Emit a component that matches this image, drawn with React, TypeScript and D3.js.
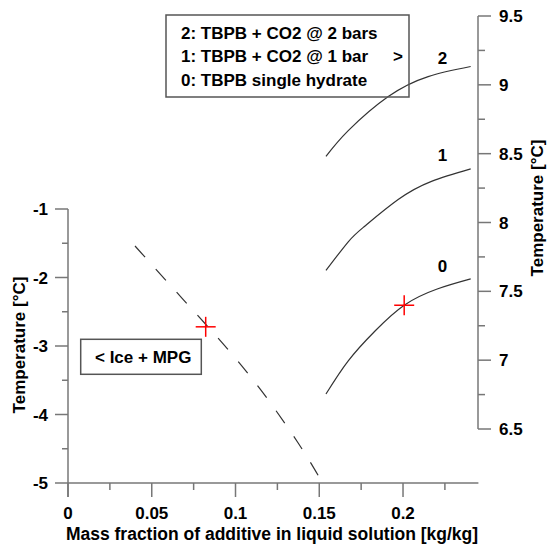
import React from "react";
import * as d3 from "d3";

const W = 547;
const H = 544;

// X axis ticks (mass fraction)
const xMajorTicks = [0, 0.05, 0.1, 0.15, 0.2];
const xMinorTicks = [0.025, 0.075, 0.125, 0.175, 0.225];
// Left axis (ice + MPG)
const leftMajorTicks = [-1, -2, -3, -4, -5];
const leftMinorTicks = [-1.5, -2.5, -3.5, -4.5];
// Right axis (hydrates)
const rightMajorTicks = [9.5, 9, 8.5, 8, 7.5, 7, 6.5];
const rightMinorTicks = [9.25, 8.75, 8.25, 7.75, 7.25, 6.75];

// Ice + MPG liquidus (left axis)
const mpgX = [0.04, 0.068, 0.093, 0.116, 0.1375, 0.1496];
const mpgT = [-1.54, -2.3, -2.98, -3.67, -4.42, -4.9];

// Hydrate curves (right axis)
const h0X = [0.154, 0.1673, 0.1833, 0.2007, 0.22, 0.2404];
const h0T = [6.754, 6.995, 7.212, 7.399, 7.515, 7.59];
const h1X = [0.154, 0.1673, 0.1771, 0.1971, 0.217, 0.2404];
const h1T = [7.652, 7.86, 7.973, 8.167, 8.299, 8.389];
const h2X = [0.154, 0.1673, 0.1912, 0.215, 0.2404];
const h2T = [8.48, 8.667, 8.915, 9.06, 9.133];

// Measured points
const crossMpg = { x: 0.0822, t: -2.72 };
const crossHyd = { x: 0.2007, t: 7.399 };

const legendLines = ["2: TBPB + CO2 @ 2 bars", "1: TBPB + CO2 @ 1 bar", "0: TBPB single hydrate"];
const curveLabels = [
  { label: "2", x: 0.2235, t: 9.15 },
  { label: "1", x: 0.2235, t: 8.45 },
  { label: "0", x: 0.2235, t: 7.64 },
];

const FONT = "'Liberation Sans', Arial, Helvetica, sans-serif";
const AXIS = "#777";
const FS = 17;

export default function App() {
  const x = d3.scaleLinear().domain([0, 0.245]).range([68, 478.4]);
  const yL = d3.scaleLinear().domain([-5, -1]).range([483, 209]);
  const yR = d3.scaleLinear().domain([6.5, 9.5]).range([429, 16]);

  const lineL = d3
    .line<number>()
    .x((_, i) => x(mpgX[i]))
    .y((d) => yL(d))
    .curve(d3.curveNatural);
  const mkR = (xs: number[]) =>
    d3
      .line<number>()
      .x((_, i) => x(xs[i]))
      .y((d) => yR(d))
      .curve(d3.curveNatural);

  const cross = (cx: number, cy: number, key: string) => (
    <g key={key} stroke="#ff0000" strokeWidth={1.5}>
      <line x1={cx - 10} x2={cx + 10} y1={cy} y2={cy} />
      <line x1={cx} x2={cx} y1={cy - 10} y2={cy + 10} />
    </g>
  );

  const xAxisY = 483;
  const leftX = 68;
  const rightX = 478;

  return (
    <div style={{ position: "absolute", left: 0, top: 0 }}>
      <svg width={W} height={H} style={{ display: "block", background: "#fff" }} fontFamily={FONT}>
        {/* X axis */}
        <line x1={x(0)} x2={x(0.245)} y1={xAxisY} y2={xAxisY} stroke={AXIS} strokeWidth={1.5} />
        {xMajorTicks.map((t) => (
          <g key={"xm" + t}>
            <line x1={x(t)} x2={x(t)} y1={xAxisY} y2={xAxisY + 14} stroke={AXIS} strokeWidth={1.5} />
            <text x={x(t)} y={518.5} textAnchor="middle" fontSize={FS} fontWeight="bold" fill="#000">
              {t}
            </text>
          </g>
        ))}
        {xMinorTicks.map((t) => (
          <line key={"xn" + t} x1={x(t)} x2={x(t)} y1={xAxisY} y2={xAxisY + 7} stroke={AXIS} strokeWidth={1.5} />
        ))}
        <text x={272} y={539.5} textAnchor="middle" fontSize={17.5} fontWeight="bold" fill="#000">
          Mass fraction of additive in liquid solution [kg/kg]
        </text>

        {/* Left axis */}
        <line x1={leftX} x2={leftX} y1={yL(-1)} y2={yL(-5) + 14} stroke={AXIS} strokeWidth={1.5} />
        {leftMajorTicks.map((t) => (
          <g key={"lm" + t}>
            <line x1={leftX - 13} x2={leftX} y1={yL(t)} y2={yL(t)} stroke={AXIS} strokeWidth={1.5} />
            <text x={48} y={yL(t) + 6} textAnchor="end" fontSize={FS} fontWeight="bold" fill="#000">
              {t}
            </text>
          </g>
        ))}
        {leftMinorTicks.map((t) => (
          <line key={"ln" + t} x1={leftX - 6} x2={leftX} y1={yL(t)} y2={yL(t)} stroke={AXIS} strokeWidth={1.5} />
        ))}
        <text
          transform={`translate(25,345) rotate(-90)`}
          textAnchor="middle"
          fontSize={FS}
          fontWeight="bold"
          fill="#000"
        >
          Temperature [°C]
        </text>

        {/* Right axis */}
        <line x1={rightX} x2={rightX} y1={yR(9.5)} y2={yR(6.5)} stroke={AXIS} strokeWidth={1.5} />
        {rightMajorTicks.map((t) => (
          <g key={"rm" + t}>
            <line x1={rightX} x2={rightX + 13} y1={yR(t)} y2={yR(t)} stroke={AXIS} strokeWidth={1.5} />
            <text x={499} y={yR(t) + 6} textAnchor="start" fontSize={FS} fontWeight="bold" fill="#000">
              {t}
            </text>
          </g>
        ))}
        {rightMinorTicks.map((t) => (
          <line key={"rn" + t} x1={rightX} x2={rightX + 7} y1={yR(t)} y2={yR(t)} stroke={AXIS} strokeWidth={1.5} />
        ))}
        <text
          transform={`translate(543,208) rotate(-90)`}
          textAnchor="middle"
          fontSize={FS}
          fontWeight="bold"
          fill="#000"
        >
          Temperature [°C]
        </text>

        {/* Curves */}
        <path d={lineL(mpgT) || ""} fill="none" stroke="#333" strokeWidth={1.2} strokeDasharray="15,16" />
        <path d={mkR(h0X)(h0T) || ""} fill="none" stroke="#333" strokeWidth={1.2} />
        <path d={mkR(h1X)(h1T) || ""} fill="none" stroke="#333" strokeWidth={1.2} />
        <path d={mkR(h2X)(h2T) || ""} fill="none" stroke="#333" strokeWidth={1.2} />

        {curveLabels.map((c) => (
          <text key={c.label} x={x(c.x)} y={yR(c.t)} textAnchor="middle" fontSize={FS} fontWeight="bold" fill="#000">
            {c.label}
          </text>
        ))}

        {cross(x(crossMpg.x), yL(crossMpg.t), "c1")}
        {cross(x(crossHyd.x), yR(crossHyd.t), "c2")}

        {/* Legend box */}
        <rect x={166} y={15} width={243} height={82} fill="none" stroke="#555" strokeWidth={1.5} />
        {legendLines.map((l, i) => (
          <text key={l} x={181} y={38.5 + i * 23.5} fontSize={FS} fontWeight="bold" fill="#000">
            {l}
          </text>
        ))}
        <text x={393} y={62} fontSize={FS} fontWeight="bold" fill="#000">
          &gt;
        </text>

        {/* Ice + MPG box */}
        <rect x={80.7} y={339.3} width={120.6} height={35} fill="none" stroke="#555" strokeWidth={1.5} />
        <text x={95} y={362.5} fontSize={FS} fontWeight="bold" fill="#000">
          &lt; Ice + MPG
        </text>
      </svg>
    </div>
  );
}
